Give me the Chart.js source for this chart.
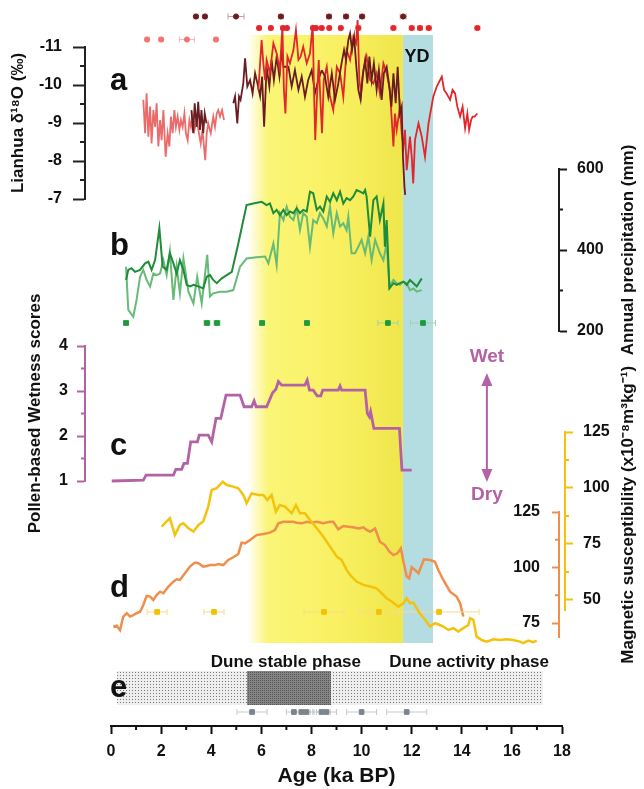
<!DOCTYPE html>
<html>
<head>
<meta charset="utf-8">
<script src="https://cdn.jsdelivr.net/npm/chart.js@4.4.1/dist/chart.umd.min.js"></script>
<style>
  html, body { margin: 0; padding: 0; background: #fff; }
  #wrap { position: relative; width: 644px; height: 789px; }
  #wrap canvas { position: absolute; left: 0; top: 0; }
</style>
</head>
<body>
<div id="wrap">
  <canvas id="shade" width="644" height="789"></canvas>
  <canvas id="axis" width="644" height="789"></canvas>
  <canvas id="dune" width="644" height="789"></canvas>
  <canvas id="msOrange" width="644" height="789"></canvas>
  <canvas id="msYellow" width="644" height="789"></canvas>
  <canvas id="wetness" width="644" height="789"></canvas>
  <canvas id="precip" width="644" height="789"></canvas>
  <canvas id="lianhua" width="644" height="789"></canvas>
  <canvas id="dates" width="644" height="789"></canvas>
</div>
<script>
// ---------- data (ages in ka BP) ----------
const holoceneOptimum = [5.45, 11.65];
const youngerDryas = [11.65, 12.85];

// a: Lianhua d18O
const salmonAge = [1.29,1.36,1.42,1.49,1.56,1.62,1.69,1.76,1.82,1.89,1.96,2.02,2.09,2.18,2.26,2.33,2.39,2.46,2.53,2.59,2.66,2.73,2.79,2.86,2.93,2.99,3.06,3.13,3.19,3.26,3.33,3.42,3.51,3.58,3.65,3.71,3.76,3.82,3.88,3.98,4.08,4.15,4.22,4.28,4.35,4.43,4.51];
const salmonD18O = [-9.61,-8.73,-9.78,-8.64,-9.43,-8.46,-9.34,-8.90,-9.52,-8.38,-9.08,-8.55,-9.34,-8.11,-8.73,-8.38,-9.17,-8.73,-9.34,-8.90,-9.17,-8.82,-9.08,-8.90,-9.25,-8.73,-8.55,-9.08,-8.90,-9.17,-8.82,-9.08,-8.73,-8.46,-8.82,-8.38,-8.02,-8.73,-8.99,-8.73,-9.17,-8.90,-9.25,-9.34,-9.17,-9.34,-9.08];
const brownAgeA = [3.21,3.28,3.34,3.42,3.48,3.55,3.61,3.68,3.74,3.81];
const brownD18OA = [-9.34,-8.73,-9.52,-8.90,-9.56,-8.82,-9.34,-8.73,-9.25,-8.99];
const brownAgeB = [4.88,4.95,5.04,5.11,5.17,5.28,5.35,5.44,5.55,5.65,5.75,5.84,5.95,6.03,6.11,6.21,6.32,6.41,6.50,6.61,6.72,6.81,6.88,
  7.08,7.21,7.34,7.48,7.61,7.74,7.87,8.01,8.14,8.27,8.41,8.54,8.67,8.81,8.94,9.07,9.20,9.30,9.38,9.47,9.54,9.62,9.70,9.78,9.87,9.96,10.04,10.14,10.23,10.31,10.40,10.49,10.60,10.69,10.80,10.89,11.00,11.09,11.19,11.27,11.36,11.44,11.53,11.60,11.65,11.71,11.74];
const brownD18OB = [-9.52,-9.70,-8.99,-9.70,-9.61,-10.05,-10.70,-9.96,-10.13,-9.78,-10.31,-10.05,-9.70,-10.22,-8.90,-10.48,-9.96,-10.66,-10.13,-10.75,-10.22,-10.92,-10.48,
  -10.48,-9.96,-10.39,-9.87,-10.22,-9.69,-10.13,-10.39,-9.78,-10.13,-10.39,-10.22,-9.69,-10.31,-9.61,-10.04,-10.57,-10.92,-10.66,-11.18,-11.36,-10.92,-11.27,-10.57,-9.87,-9.61,-10.22,-10.66,-10.04,-10.75,-10.13,-10.57,-9.87,-10.39,-9.61,-10.31,-10.48,-10.04,-9.43,-10.31,-9.52,-10.48,-9.25,-9.43,-8.11,-7.32,-7.11];
const redAge = [5.88,6.01,6.08,6.15,6.21,6.34,6.48,6.61,6.74,6.84,6.90,6.96,7.04,7.14,7.28,7.38,7.48,7.57,7.67,7.81,7.94,8.05,8.10,8.15,8.22,8.29,8.35,8.42,8.49,8.61,8.74,8.87,9.01,9.14,9.27,9.40,9.54,9.67,9.78,9.84,9.91,9.98,10.07,10.20,10.34,10.47,10.60,10.73,10.87,11.00,11.13,11.27,11.33,11.40,11.53,11.60,11.67,11.73,11.80,11.93,12.00,12.06,12.13,12.27,12.40,12.53,12.67,
  12.86,13.00,13.13,13.20,13.29,13.39,13.53,13.63,13.73,13.82,13.93,14.03,14.13,14.22,14.29,14.37,14.43,14.51,14.62];
const redD18O = [-9.87,-11.18,-10.57,-10.13,-10.66,-10.31,-11.10,-10.83,-10.39,-11.53,-9.87,-9.25,-10.75,-10.57,-10.92,-11.45,-10.66,-10.75,-11.01,-10.57,-10.83,-11.58,-9.87,-8.55,-9.69,-10.66,-9.69,-8.73,-10.13,-10.48,-9.69,-9.34,-10.48,-10.31,-9.69,-10.92,-10.66,-11.27,-11.10,-11.71,-10.13,-9.78,-10.39,-10.75,-10.13,-10.04,-10.31,-9.78,-10.57,-10.31,-9.87,-8.38,-9.25,-8.82,-9.43,-8.73,-8.38,-8.82,-7.76,-8.64,-8.11,-7.41,-8.55,-8.99,-8.64,-8.11,-8.99,
  -9.69,-9.96,-10.13,-10.22,-9.87,-9.78,-9.61,-9.87,-9.78,-9.43,-9.17,-9.43,-8.86,-9.25,-8.82,-9.08,-9.17,-9.17,-9.25];
const datesDark = [3.39,3.75,4.99,6.78,8.70,9.38,10.02,11.66];
const datesDarkErr = [0.08,0.08,0.32,0.1,0.1,0.1,0.1,0.12];
const datesRed = [5.91,6.38,6.86,7.02,8.06,8.18,8.41,8.71,9.17,9.87,11.27,12.00,12.33,12.68,14.62];
const datesRedErr = [0.08,0.08,0.08,0.08,0.08,0.08,0.08,0.08,0.08,0.1,0.1,0.1,0.1,0.1,0.1];
const datesSalmon = [1.44,2.00,3.03,4.19];
const datesSalmonErr = [0.08,0.08,0.3,0.08];

// b: annual precipitation (mm)
const precipAgeDark = [0.60,0.69,0.82,0.96,1.16,1.36,1.49,1.62,1.76,1.93,2.06,2.22,2.35,2.49,2.62,2.75,2.89,3.02,3.15,3.29,3.49,3.68,3.82,3.95,4.08,4.22,4.42,4.62,4.82,5.08,5.41,5.68,6.01,6.21,6.34,6.48,6.61,6.74,6.88,7.01,7.14,7.28,7.41,7.54,7.67,7.81,7.94,8.07,8.21,8.34,8.47,8.61,8.74,8.87,9.01,9.14,9.27,9.40,9.54,9.67,9.80,9.94,10.07,10.14,10.20,10.34,10.47,10.60,10.73,10.87,10.93,11.00,11.11,11.27,11.40,11.53,11.67,11.80,11.93,12.07,12.20,12.40];
const precipDark = [326,351,355,346,351,367,371,351,375,454,359,351,392,367,342,375,351,314,310,314,310,305,334,338,326,318,330,338,346,416,511,515,519,511,515,491,499,486,499,486,495,491,503,491,499,495,544,540,499,507,495,532,519,540,523,544,515,528,523,532,548,544,540,548,532,433,523,532,474,515,408,474,305,318,314,318,322,314,326,318,310,330];
const precipAgeLight = [0.60,0.69,0.89,1.02,1.16,1.29,1.42,1.56,1.69,1.82,1.96,2.09,2.22,2.35,2.49,2.62,2.75,2.89,3.09,3.29,3.44,3.62,3.84,3.95,4.08,4.35,4.62,4.88,5.15,5.41,5.81,6.15,6.28,6.48,6.61,6.74,6.88,7.01,7.14,7.28,7.41,7.54,7.67,7.81,7.94,8.07,8.21,8.34,8.47,8.61,8.74,8.87,9.01,9.14,9.27,9.40,9.47,9.60,9.74,9.87,10.00,10.14,10.27,10.40,10.54,10.73,10.87,11.00,11.11,11.27,11.40,11.53,11.67,11.80,11.93,12.07,12.20,12.40];
const precipLight = [359,252,235,277,334,351,326,310,342,338,342,375,338,396,277,359,293,379,297,268,334,268,388,285,293,297,297,301,359,379,382,384,367,416,363,491,474,507,482,474,503,449,491,482,408,474,466,491,478,458,507,441,491,458,466,449,482,392,392,408,425,392,433,375,425,392,375,416,310,326,318,314,322,318,301,305,297,301];
const precipDates = [0.60,3.83,4.23,6.03,7.82,11.05,12.45];
const precipDatesErr = [0.1,0.12,0.12,0.1,0.1,0.4,0.5];

// c: pollen-based wetness scores
const wetnessAge = [0.03,1.29,1.40,2.49,2.59,2.82,2.91,3.05,3.18,3.45,3.52,3.88,4.02,4.19,4.38,4.59,5.15,5.31,5.61,5.71,5.79,6.21,6.45,6.58,6.68,6.81,7.74,7.83,7.92,8.07,8.23,8.37,8.45,9.07,9.14,9.20,10.14,10.23,10.31,10.36,10.49,11.51,11.61,12.00];
const wetness = [1.00,1.02,1.13,1.13,1.26,1.26,1.39,1.39,1.87,1.87,2.02,2.02,1.87,2.39,2.39,2.91,2.91,2.65,2.65,2.78,2.65,2.65,2.96,3.04,3.21,3.13,3.13,3.24,3.02,3.02,2.89,2.89,3.02,3.02,3.11,3.02,3.02,2.50,2.43,2.54,2.17,2.17,1.24,1.24];

// d: magnetic susceptibility
const msYellowAge = [2.02,2.35,2.55,2.75,2.89,3.09,3.29,3.49,3.68,3.88,4.02,4.22,4.46,4.62,4.88,5.08,5.28,5.41,5.61,5.88,6.08,6.24,6.41,6.58,6.74,6.94,7.21,7.38,7.54,7.74,7.94,8.21,8.47,8.74,9.01,9.20,9.40,9.54,9.80,10.07,10.34,10.60,10.80,11.00,11.20,11.47,11.67,11.80,11.93,12.07,12.27,12.53,12.73,12.93,13.13,13.26,13.46,13.66,13.86,14.06,14.26,14.33,14.46,14.59,14.79,14.99,15.26,15.52,15.79,16.05,16.32,16.45,16.65,16.85,16.99];
const msYellow = [82.7,86.5,79.0,83.5,84.2,82.0,80.5,83.5,85.0,91.7,99.1,99.9,102.8,101.3,100.6,99.9,96.9,93.2,97.6,96.9,96.9,94.6,96.9,89.4,92.4,91.7,88.7,92.4,88.7,88.7,85.7,82.0,78.3,73.8,69.3,67.9,63.4,61.2,58.2,56.7,56.0,55.2,53.0,50.7,49.3,47.0,48.5,50.7,48.5,48.8,44.8,41.1,38.1,39.6,38.8,38.1,36.6,37.4,35.9,37.4,38.8,41.8,41.1,33.6,32.1,31.4,32.4,32.1,32.4,32.1,31.4,30.7,31.8,31.1,31.8];
const msOrangeAge = [0.09,0.23,0.36,0.49,0.63,0.76,0.89,1.02,1.16,1.29,1.42,1.56,1.69,1.82,1.96,2.09,2.29,2.49,2.62,2.75,2.95,3.15,3.35,3.49,3.68,3.82,3.95,4.15,4.28,4.48,4.68,4.88,5.08,5.21,5.35,5.55,5.81,6.08,6.34,6.54,6.68,6.88,7.08,7.28,7.41,7.61,7.81,8.01,8.21,8.47,8.74,8.87,9.07,9.27,9.47,9.67,9.87,10.07,10.20,10.34,10.54,10.73,10.93,11.11,11.27,11.43,11.57,11.67,11.80,11.90,12.00,12.13,12.27,12.49,12.73,12.93,13.06,13.26,13.53,13.79,13.93,14.06];
const msOrange = [73.3,73.8,71.8,77.9,79.4,77.9,78.6,79.4,80.1,83.1,87.2,86.9,85.4,87.6,89.1,88.4,91.4,93.6,94.7,94.4,97.4,100.4,102.2,101.9,100.4,100.7,101.1,101.1,101.6,101.1,103.4,104.6,106.1,111.2,110.9,112.4,114.6,115.1,115.7,116.9,119.9,120.6,120.6,120.6,120.2,119.9,120.6,120.2,120.6,119.9,120.6,120.6,117.2,118.7,118.4,118.1,117.6,118.1,116.9,116.1,117.6,111.6,110.1,107.1,105.6,106.4,108.6,102.6,95.9,95.1,100.1,98.9,97.4,103.7,103.4,102.6,98.9,94.4,89.1,86.9,83.9,77.9];
const msDates = [1.84,4.11,8.50,10.69,13.09];
const msDatesErr = [0.4,0.4,0.8,0.8,1.6];

// e: dune phases
const duneRecord = [0.24, 17.24];
const duneStable = [5.43, 8.78];
const duneDates = [5.63,7.3,7.6,7.8,8.4,8.6,10.0,11.8];
const duneDatesErr = [0.6,0.3,0.35,0.3,0.35,0.4,0.6,0.8];

// ticks
const ageTicks = [0,2,4,6,8,10,12,14,16,18];
const ageMinor = [1,3,5,7,9,11,13,15,17];
const lianhuaTicks = [-11,-10,-9,-8,-7];
const lianhuaMinor = [-10.5,-9.5,-8.5,-7.5];
const precipTicks = [200,400,600];
const precipMinor = [300,500];
const wetnessTicks = [1,2,3,4];
const wetnessMinor = [1.5,2.5,3.5];
const msOrangeTicks = [75,100,125];
const msOrangeMinor = [87.5,112.5];
const msYellowTicks = [50,75,100,125];
const msYellowMinor = [62.5,87.5,112.5];

// ---------- helpers ----------
const FONT = "'Liberation Sans', Arial, sans-serif";
const bold = size => ({ family: FONT, size, weight: 'bold' });
const cssBold = size => 'bold ' + size + 'px ' + FONT;
const PURPLE = '#b462a6';

// shared age axis: pixel of 0 ka and pixels per ka
const X0 = 111, PX_PER_KA = 25.06;
const kaAt = px => (px - X0) / PX_PER_KA;

const pts = (xs, ys) => xs.map((x, i) => ({ x, y: ys[i] }));

function ageScale(left, right) {
  return { type: 'linear', display: false, bounds: 'data',
    afterDataLimits: s => { s.min = kaAt(left); s.max = kaAt(right); } };
}

function yAxis(position, min, max, color, ticks, tickLen, pad, width, extra) {
  return Object.assign({
    position, min, max, bounds: 'data',
    afterBuildTicks: s => { s.ticks = ticks.map(v => ({ value: v })); },
    ticks: { font: bold(16), color: '#111', padding: pad },
    grid: { drawOnChartArea: false, tickLength: tickLen, tickWidth: 2, tickColor: color },
    border: { color, width: 2 },
    afterFit: s => { s.width = width; }
  }, extra || {});
}

const line = (xs, ys, color, width) => ({ data: pts(xs, ys), borderColor: color, borderWidth: width,
  pointRadius: 0, fill: false, clip: false });
const marks = (xs, row, err, color, errColor, style, r) => ({ data: xs.map(x => ({ x, y: row })), showLine: false,
  pointStyle: style, pointRadius: r, backgroundColor: color, borderColor: color, borderWidth: 1,
  errX: err, errColor, clip: false });
const band = (range, color) => ({ data: [{ x: range[0], y: 1 }, { x: range[1], y: 1 }], fill: { value: 0 },
  backgroundColor: color, borderColor: 'transparent', borderWidth: 0, pointRadius: 0 });

const errorBars = {
  id: 'errorBars',
  beforeDatasetsDraw(chart) {
    const ctx = chart.ctx;
    chart.data.datasets.forEach((ds, i) => {
      if (!ds.errX) return;
      const meta = chart.getDatasetMeta(i);
      const xs = chart.scales[meta.xAxisID], ys = chart.scales[meta.yAxisID];
      ctx.save();
      ctx.strokeStyle = ds.errColor;
      ctx.lineWidth = 1;
      ctx.beginPath();
      ds.data.forEach((p, j) => {
        const x1 = xs.getPixelForValue(p.x - ds.errX[j]), x2 = xs.getPixelForValue(p.x + ds.errX[j]);
        const y = ys.getPixelForValue(p.y);
        ctx.moveTo(x1, y); ctx.lineTo(x2, y);
        ctx.moveTo(x1, y - 3); ctx.lineTo(x1, y + 3);
        ctx.moveTo(x2, y - 3); ctx.lineTo(x2, y + 3);
      });
      ctx.stroke();
      ctx.restore();
    });
  }
};

function minorTicks(axis, values, length, color) {
  return {
    id: 'minor_' + axis,
    afterDraw(chart) {
      const s = chart.scales[axis], ctx = chart.ctx;
      ctx.save();
      ctx.strokeStyle = color;
      ctx.lineWidth = 2;
      ctx.beginPath();
      values.forEach(v => {
        const p = s.getPixelForValue(v);
        if (s.isHorizontal()) { ctx.moveTo(p, s.top); ctx.lineTo(p, s.top + length); }
        else if (s.position === 'left') { ctx.moveTo(s.right, p); ctx.lineTo(s.right - length, p); }
        else { ctx.moveTo(s.left, p); ctx.lineTo(s.left + length, p); }
      });
      ctx.stroke();
      ctx.restore();
    }
  };
}

function notes(items) {
  return {
    id: 'notes',
    afterDraw(chart) {
      const ctx = chart.ctx, sx = chart.scales.x, sy = chart.scales.y;
      items.forEach(n => {
        const x = sx.getPixelForValue(n.x);
        ctx.save();
        ctx.fillStyle = n.color || '#111';
        ctx.strokeStyle = n.color || '#111';
        if (n.arrow) {
          const y1 = sy.getPixelForValue(n.y), y2 = sy.getPixelForValue(n.y2);
          ctx.lineWidth = 2;
          ctx.beginPath(); ctx.moveTo(x, y1 + 8); ctx.lineTo(x, y2 - 8); ctx.stroke();
          ctx.beginPath(); ctx.moveTo(x, y1); ctx.lineTo(x - 5.5, y1 + 13); ctx.lineTo(x + 5.5, y1 + 13); ctx.closePath(); ctx.fill();
          ctx.beginPath(); ctx.moveTo(x, y2); ctx.lineTo(x - 5.5, y2 - 13); ctx.lineTo(x + 5.5, y2 - 13); ctx.closePath(); ctx.fill();
        } else {
          ctx.font = n.font;
          ctx.textAlign = n.align || 'center';
          ctx.textBaseline = n.baseline || 'alphabetic';
          ctx.translate(x, sy.getPixelForValue(n.y));
          if (n.rotate) ctx.rotate(n.rotate * Math.PI / 180);
          ctx.fillText(n.text, 0, 0);
        }
        ctx.restore();
      });
    }
  };
}

function panel(id, padding, scales, datasets, plugins) {
  return new Chart(document.getElementById(id), {
    type: 'line',
    data: { datasets },
    options: {
      responsive: false, animation: false, events: [],
      layout: { padding },
      scales,
      plugins: { legend: { display: false }, tooltip: { enabled: false } }
    },
    plugins: plugins || []
  });
}

function stipple(canvasId, bg, dot, cell) {
  const c = document.createElement('canvas');
  c.width = c.height = cell;
  const g = c.getContext('2d');
  g.fillStyle = bg; g.fillRect(0, 0, cell, cell);
  g.fillStyle = dot; g.fillRect(0, 0, 1, 1);
  return document.getElementById(canvasId).getContext('2d').createPattern(c, 'repeat');
}

const letter = (text, y) => ({ text, x: kaAt(110), y, font: cssBold(31), align: 'left' });

// ---------- shaded periods ----------
const stableGradient = c => {
  const chart = c.chart;
  if (!chart.chartArea) return null;
  const sx = chart.scales.x;
  const g = chart.ctx.createLinearGradient(sx.getPixelForValue(holoceneOptimum[0]), 0, sx.getPixelForValue(holoceneOptimum[1]), 0);
  g.addColorStop(0, '#ffffff');
  g.addColorStop(0.13, '#fbf577');
  g.addColorStop(0.55, '#f9f163');
  g.addColorStop(1, '#efe64b');
  return g;
};
panel('shade', { left: 111, right: 82, top: 35, bottom: 146 },
  { x: ageScale(111, 562), y: { display: false, min: 0, max: 1 } },
  [band(holoceneOptimum, stableGradient), band(youngerDryas, '#b3dde0')]);

// ---------- age axis ----------
panel('axis', { left: 111, right: 82, top: 35, bottom: 0 },
  { x: { type: 'linear', position: 'bottom', min: 0, max: 18, bounds: 'data',
      afterBuildTicks: s => { s.ticks = ageTicks.map(v => ({ value: v })); },
      ticks: { font: bold(16), color: '#111', padding: 8 },
      grid: { drawOnChartArea: false, tickLength: 8, tickWidth: 2, tickColor: '#111' },
      border: { color: '#111', width: 2 },
      title: { display: true, text: 'Age (ka BP)', font: bold(21), color: '#111', padding: { top: 0, bottom: 0 } },
      afterFit: s => { s.height = 63; } },
    y: { display: false, min: 0, max: 1 } },
  [], [minorTicks('x', ageMinor, 4, '#111')]);

// ---------- e: dune phases ----------
panel('dune', { left: 111, right: 82, top: 671, bottom: 74 },
  { x: ageScale(111, 562), y: { display: false, min: -0.294, max: 1 } },
  [marks(duneDates, -0.206, duneDatesErr, '#7c848e', '#c6c9ce', 'rect', 3.3),
   band(duneStable, stipple('dune', '#858585', '#555555', 2)),
   band(duneRecord, stipple('dune', '#eeeeee', '#7a7a7a', 3))],
  [errorBars, notes([
    letter('e', 0.235),
    { text: 'Dune stable phase', x: 6.98, y: 1.118, font: cssBold(17) },
    { text: 'Dune activity phase', x: 14.29, y: 1.118, font: cssBold(17) }
  ])]);

// ---------- d: magnetic susceptibility (orange, left-facing axis) ----------
panel('msOrange', { left: 509, right: 4, top: 512, bottom: 152 },
  { x: ageScale(559, 640),
    y: yAxis('left', 68.7, 125, '#ef8f4c', msOrangeTicks, 7, 12, 50) },
  [line(msOrangeAge, msOrange, '#ef8f4c', 2.5)],
  [minorTicks('y', msOrangeMinor, 4, '#ef8f4c')]);

// ---------- d: magnetic susceptibility (yellow) ----------
panel('msYellow', { left: 111, right: 2, top: 432, bottom: 179 },
  { x: ageScale(111, 565),
    y: yAxis('right', 45.5, 125, '#f4c20d', msYellowTicks, 8, 10, 77) },
  [marks(msDates, 44.64, msDatesErr, '#f5c000', '#f7dc8c', 'rect', 3.3),
   line(msYellowAge, msYellow, '#f4c20d', 2.5)],
  [errorBars, minorTicks('y', msYellowMinor, 4, '#f4c20d'), notes([
    letter('d', 51.3),
    { text: 'Magnetic susceptibility (x10\u207B\u2078m\u00B3kg\u207B\u00B9)', x: kaAt(628), y: 88, font: cssBold(17), baseline: 'middle', rotate: -90 }
  ])]);

// ---------- c: pollen-based wetness ----------
panel('wetness', { left: 5, right: 82, top: 346, bottom: 308 },
  { x: ageScale(85, 562),
    y: yAxis('left', 1, 4, PURPLE, wetnessTicks, 8, 9, 80, {
      title: { display: true, text: 'Pollen-based Wetness scores', font: bold(17), color: '#111', padding: { top: 20, bottom: 0 } } }) },
  [line(wetnessAge, wetness, PURPLE, 2.8)],
  [minorTicks('y', wetnessMinor, 4, PURPLE), notes([
    letter('c', 1.578),
    { text: 'Wet', x: 15.0, y: 3.64, font: cssBold(19), color: PURPLE },
    { text: 'Dry', x: 15.0, y: 0.58, font: cssBold(19), color: PURPLE },
    { arrow: true, x: 15.0, y: 3.40, y2: 0.978, color: PURPLE }
  ])]);

// ---------- b: annual precipitation ----------
panel('precip', { left: 111, right: 2, top: 169, bottom: 458 },
  { x: ageScale(111, 559),
    y: yAxis('right', 200, 600, '#1a1a1a', precipTicks, 8, 10, 83) },
  [marks(precipDates, 219.8, precipDatesErr, '#1e9a3c', '#9fd4ab', 'rect', 3.3),
   line(precipAgeDark, precipDark, '#1f8c39', 2),
   line(precipAgeLight, precipLight, '#66bb76', 2)],
  [errorBars, minorTicks('y', precipMinor, 4, '#1a1a1a'), notes([
    letter('b', 387.7),
    { text: 'Annual precipitation (mm)', x: kaAt(628), y: 400, font: cssBold(17), baseline: 'middle', rotate: -90 }
  ])]);

// ---------- a: Lianhua d18O ----------
const brownEarly = brownAgeB.filter(a => a <= 8.41);
const brownLate = brownAgeB.filter(a => a >= 8.41);
panel('lianhua', { left: 5, right: 82, top: 47, bottom: 590 },
  { x: ageScale(85, 562),
    y: yAxis('left', -11, -7, '#222', lianhuaTicks, 12, 11, 80, { reverse: true,
      title: { display: true, text: 'Lianhua \u03B4\u00B9\u2078O (\u2030)', font: bold(17), color: '#111', padding: { top: 3, bottom: 0 } } }) },
  [line(brownLate, brownD18OB.slice(brownEarly.length - 1), '#6a1c21', 1.8),
   line(redAge, redD18O, '#e2272c', 1.8),
   line(brownEarly, brownD18OB.slice(0, brownEarly.length), '#6a1c21', 1.8),
   line(brownAgeA, brownD18OA, '#6a1c21', 1.8),
   line(salmonAge, salmonD18O, '#eb6b6a', 1.8)],
  [minorTicks('y', lianhuaMinor, 5, '#222'), notes([
    letter('a', -9.868),
    { text: 'YD', x: kaAt(417), y: -10.61, font: cssBold(18) }
  ])]);

// ---------- a: dating rows above the record ----------
panel('dates', { left: 111, right: 82, top: 4, bottom: 738 },
  { x: ageScale(111, 562), y: { display: false, min: 0, max: 4 } },
  [marks(datesDark, 3, datesDarkErr, '#6a1c21', '#c4a2a4', 'circle', 2.6),
   marks(datesRed, 2, datesRedErr, '#e2272c', '#f3a5a5', 'circle', 2.6),
   marks(datesSalmon, 1, datesSalmonErr, '#ef7471', '#f6b9b7', 'circle', 2.6)],
  [errorBars]);
</script>
</body>
</html>
